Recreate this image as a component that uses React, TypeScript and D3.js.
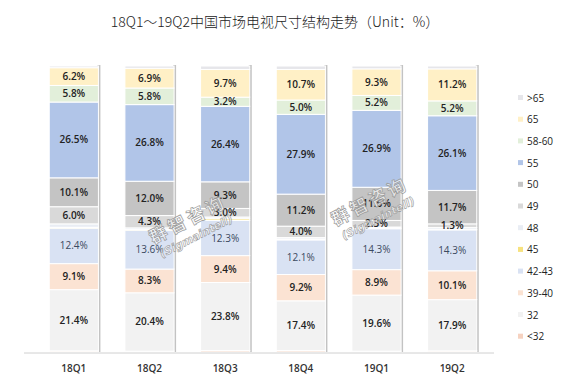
import React, { useEffect, useRef } from "react";
import * as d3 from "d3";

const quarters = ["18Q1", "18Q2", "18Q3", "18Q4", "19Q1", "19Q2"];
// stacking order, bottom to top
const sizes = ["<32", "32", "39-40", "42-43", "45", "48", "49", "50", "55", "58-60", "65", ">65"];

const lt32 = [0.4, 0.3, 0.5, 0.5, 0.3, 0.4];
const s32 = [21.4, 20.4, 23.8, 17.4, 19.6, 17.9];
const s39 = [9.1, 8.3, 9.4, 9.2, 8.9, 10.1];
const s42 = [12.4, 13.6, 12.3, 12.1, 14.3, 14.3];
const s45 = [0.3, 0.2, 0.6, 0.3, 0.2, 0.2];
const s48 = [1.2, 0.6, 0.6, 0.5, 0.4, 0.6];
const s49 = [6.0, 4.3, 3.0, 4.0, 2.3, 1.3];
const s50 = [10.1, 12.0, 9.3, 11.2, 11.6, 11.7];
const s55 = [26.5, 26.8, 26.4, 27.9, 26.9, 26.1];
const s58 = [5.8, 5.8, 3.2, 5.0, 5.2, 5.2];
const s65 = [6.2, 6.9, 9.7, 10.7, 9.3, 11.2];
const gt65 = [0.6, 0.8, 1.2, 1.2, 1.0, 1.0];

const seriesValues = [lt32, s32, s39, s42, s45, s48, s49, s50, s55, s58, s65, gt65];
// which series carry a printed label
const labelled = ["32", "39-40", "42-43", "49", "50", "55", "58-60", "65"];

const colors: Record<string, string> = {
  "<32": "#f6d2c0",
  "32": "#f2f2f2",
  "39-40": "#fbe3d3",
  "42-43": "#d9e2f3",
  "45": "#f7e27e",
  "48": "#e9edf4",
  "49": "#d9d9d9",
  "50": "#c4c4c4",
  "55": "#b1c5e8",
  "58-60": "#e2efda",
  "65": "#fff0c6",
  ">65": "#e6e6ea",
};

const W = 583;
const H = 391;

export default function App() {
  const ref = useRef<SVGSVGElement>(null);

  useEffect(() => {
    const svg = d3.select(ref.current);
    svg.selectAll("*").remove();

    const rows = quarters.map((q, i) => {
      const r: any = { q };
      sizes.forEach((s, j) => (r[s] = seriesValues[j][i]));
      return r;
    });

    const x = d3.scaleBand().domain(quarters).range([36, 490]).paddingInner(0.35).paddingOuter(0.175);
    const y = d3.scaleLinear().domain([0, 100]).range([352, 66]);

    const stacked = d3.stack().keys(sizes)(rows);

    svg
      .append("text")
      .attr("x", 275)
      .attr("y", 27)
      .attr("text-anchor", "middle")
      .style("font-family", "'Noto Sans CJK SC', sans-serif")
      .style("font-size", "14px")
      .style("font-weight", "300")
      .attr("fill", "#222")
      .text("18Q1～19Q2中国市场电视尺寸结构走势（Unit：%）");

    // bar shadows
    svg
      .append("g")
      .selectAll("rect")
      .data(quarters)
      .join("rect")
      .attr("x", (d) => x(d)! + x.bandwidth() - 1)
      .attr("y", y(100) - 1)
      .attr("width", 3)
      .attr("height", y(0) - y(100) + 1)
      .attr("fill", "#a9a9a9")
      .attr("opacity", 0.7);

    const layers = svg
      .append("g")
      .selectAll("g")
      .data(stacked)
      .join("g")
      .attr("fill", (d) => colors[d.key]);

    layers
      .selectAll("rect")
      .data((d) => d)
      .join("rect")
      .attr("x", (d: any) => x(d.data.q)!)
      .attr("y", (d) => y(d[1]))
      .attr("width", x.bandwidth())
      .attr("height", (d) => Math.max(0, y(d[0]) - y(d[1])))
      .attr("stroke", "#fff")
      .attr("stroke-width", 1);

    // axis line
    svg
      .append("line")
      .attr("x1", 24)
      .attr("x2", 494)
      .attr("y1", y(0) + 1)
      .attr("y2", y(0) + 1)
      .attr("stroke", "#d0d0d0");

    // segment labels
    stacked
      .filter((s) => labelled.includes(s.key))
      .forEach((s) => {
        svg
          .append("g")
          .selectAll("text")
          .data(s)
          .join("text")
          .attr("x", (d: any) => x(d.data.q)! + x.bandwidth() / 2)
          .attr("y", (d) => (y(d[0]) + y(d[1])) / 2 + 3.5)
          .attr("text-anchor", "middle")
          .style("font-family", "'Open Sans', sans-serif")
          .style("font-size", "10px")
          .style("font-weight", s.key === "42-43" ? "400" : "600")
          .attr("fill", s.key === "42-43" ? "#3c4a60" : "#222")
          .text((d) => (d[1] - d[0]).toFixed(1) + "%");
      });

    // category labels
    svg
      .append("g")
      .selectAll("text")
      .data(quarters)
      .join("text")
      .attr("x", (d) => x(d)! + x.bandwidth() / 2)
      .attr("y", 372)
      .attr("text-anchor", "middle")
      .style("font-family", "'Open Sans', sans-serif")
      .style("font-size", "10px")
      .style("font-weight", "600")
      .attr("fill", "#333")
      .text((d) => d);

    // legend, top to bottom
    const legendKeys = sizes.slice().reverse();
    const lg = svg
      .append("g")
      .selectAll("g")
      .data(legendKeys)
      .join("g")
      .attr("transform", (d, i) => `translate(518,${98 + i * 21.7})`);
    lg.append("rect")
      .attr("x", 0)
      .attr("y", -3)
      .attr("width", 5)
      .attr("height", 5)
      .attr("fill", (d) => colors[d]);
    lg.append("text")
      .attr("x", 9)
      .attr("y", 3.5)
      .style("font-family", "'Open Sans', sans-serif")
      .style("font-size", "10px")
      .attr("fill", "#222")
      .text((d) => d);

    // watermarks
    const wm = [
      [192, 228],
      [374, 210],
    ];
    wm.forEach(([cx, cy]) => {
      const g = svg.append("g").attr("transform", `translate(${cx},${cy}) rotate(-27)`);
      g.append("text")
        .attr("text-anchor", "middle")
        .attr("y", -3)
        .attr("letter-spacing", "3px")
        .style("font-family", "'Noto Sans CJK SC', sans-serif")
        .style("font-size", "18px")
        .style("font-weight", "700")
        .attr("fill", "#fff")
        .attr("fill-opacity", 0.6)
        .attr("stroke", "#999")
        .attr("stroke-width", 0.7)
        .text("群智咨询");
      g.append("text")
        .attr("text-anchor", "middle")
        .attr("y", 13)
        .style("font-family", "'DejaVu Sans', sans-serif")
        .style("font-size", "11px")
        .style("font-weight", "700")
        .style("font-style", "italic")
        .attr("fill", "#fff")
        .attr("fill-opacity", 0.6)
        .attr("stroke", "#999")
        .attr("stroke-width", 0.6)
        .text("(Sigmaintell)");
    });
  }, []);

  return (
    <svg
      ref={ref}
      width={W}
      height={H}
      style={{ position: "absolute", left: 0, top: 0, background: "#fff" }}
    ></svg>
  );
}
